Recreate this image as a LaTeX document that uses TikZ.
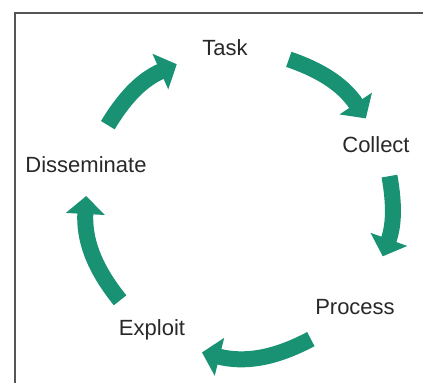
\documentclass[tikz,border=0pt]{standalone}
\usepackage{fontspec}
\setmainfont{Liberation Sans}
\usetikzlibrary{arrows.meta}
\definecolor{cycgreen}{RGB}{24,146,114}
\definecolor{framegray}{RGB}{85,85,85}
\definecolor{lblgray}{RGB}{40,40,40}
\begin{document}
\begin{tikzpicture}[x=1pt,y=1pt,
    cyc/.style={draw=cycgreen,line width=16pt,-{Triangle[width=38pt,length=18pt]}},
    lbl/.style={text=lblgray,font=\fontsize{22}{26}\selectfont}]
        % 圆的半径
        \newcommand{\cycR}{153}
        \useasboundingbox (-239,-179) rectangle (184,204);

        % 边框
        \draw[framegray,line width=2pt] (-224,-179) -- (-224,191) -- (184,191);

        % 五个步骤
        \node[lbl] (task) at (-14,156) {Task};
        \node[lbl] (collect) at (137,59) {Collect};
        \node[lbl] (process) at (116,-103) {Process};
        \node[lbl] (exploit) at (-87,-126) {Exploit};
        \node[lbl] (dissem) at (-153,39) {Disseminate};

        % 箭头的起点和终点
        \coordinate (taskS) at (71:\cycR);
        \coordinate (taskE) at (34:\cycR);
        \coordinate (collS) at (10.5:\cycR);
        \coordinate (collE) at (-20:\cycR);
        \coordinate (procS) at (-62:\cycR);
        \coordinate (procE) at (-104:\cycR);
        \coordinate (explS) at (-141:\cycR);
        \coordinate (explE) at (-183:\cycR);
        \coordinate (dissS) at (149:\cycR);
        \coordinate (dissE) at (114:\cycR);

        % 画箭头
        \draw[cyc] (taskS) to[bend left=18.5] (taskE);
        \draw[cyc] (collS) to[bend left=15] (collE);
        \draw[cyc] (procS) to[bend left=21] (procE);
        \draw[cyc] (explS) to[bend left=21] (explE);
        \draw[cyc] (dissS) to[bend left=17.5] (dissE);
\end{tikzpicture}
\end{document}
